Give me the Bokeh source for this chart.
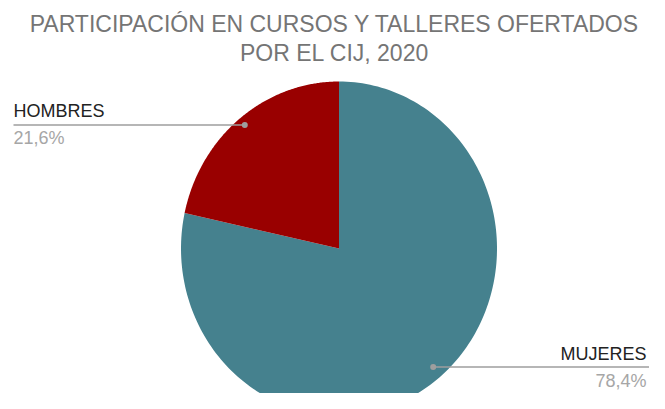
import numpy as np
from bokeh.plotting import figure
from bokeh.models import ColumnDataSource, Range1d
from bokeh.core.properties import value
from bokeh.embed import file_html
from bokeh.resources import INLINE

# ---- data ----
title_lines = ["PARTICIPACIÓN EN CURSOS Y TALLERES OFERTADOS", "POR EL CIJ, 2020"]
categories = ["MUJERES", "HOMBRES"]
percentages = [78.4, 21.6]
pct_labels = ["78,4%", "21,6%"]
colors = ["#45818e", "#990000"]

# ---- layout ----
W, H = 649, 393
CX, CY, RX, RY = 338.5, 248.0, 158.0, 167.0
FONT = "Liberation Sans"

p = figure(width=W, height=H, output_backend="svg", toolbar_location=None,
           x_range=Range1d(0, W), y_range=Range1d(H, 0),
           x_axis_type=None, y_axis_type=None, min_border=0,
           background_fill_color="white", border_fill_color="white")
p.grid.visible = False
p.outline_line_color = None

# ---- pie slices (clockwise from 12 o'clock) ----
vals = np.array(percentages, dtype=float)
fracs = vals / vals.sum()
ends = np.cumsum(fracs)
starts = ends - fracs

xs, ys = [], []
for s, e in zip(starts, ends):
    t = np.linspace(s, e, 200) * 2 * np.pi
    xs.append(np.concatenate([[CX], CX + RX * np.sin(t), [CX]]))
    ys.append(np.concatenate([[CY], CY - RY * np.cos(t), [CY]]))

p.patches(xs="xs", ys="ys", fill_color="color", line_color=None,
          source=ColumnDataSource(dict(xs=xs, ys=ys, color=colors)))

# ---- leader lines and labels ----
mids = (starts + fracs / 2) * 2 * np.pi
left = np.sin(mids) < 0
dx = CX + 0.95 * RX * np.sin(mids)
# keep the lower label block inside the canvas
dy = CY - 0.95 * RY * np.cos(mids) - np.where(left, 0.0, 5.0)
lx_end = np.where(left, 13.0, float(W))
tx = np.where(left, 13.0, W - 3.0)
align = ["left" if l else "right" for l in left]

p.segment(x0=dx, y0=dy, x1=lx_end, y1=dy, line_color="#9e9e9e", line_width=1.5)
p.scatter(x=dx, y=dy, size=6, fill_color="#9e9e9e", line_color=None)

lab = ColumnDataSource(dict(x=tx, yn=dy - 13.5, yp=dy + 13.5, name=categories,
                            pct=pct_labels, align=align))
p.text(x="x", y="yn", text="name", text_align="align", text_baseline="alphabetic",
       text_font=value(FONT), text_font_size="18px", text_color="#222222", source=lab)
p.text(x="x", y="yp", text="pct", text_align="align", text_baseline="alphabetic",
       text_font=value(FONT), text_font_size="18px", text_color="#a6a6a6", source=lab)

# ---- title ----
p.text(x=[334.0, 334.0], y=[23.5, 52.5], text=title_lines, text_align="center",
       text_baseline="alphabetic", text_font=value(FONT), text_font_size="23px",
       text_color="#757575")

open("out.html", "w").write(file_html(p, INLINE))
